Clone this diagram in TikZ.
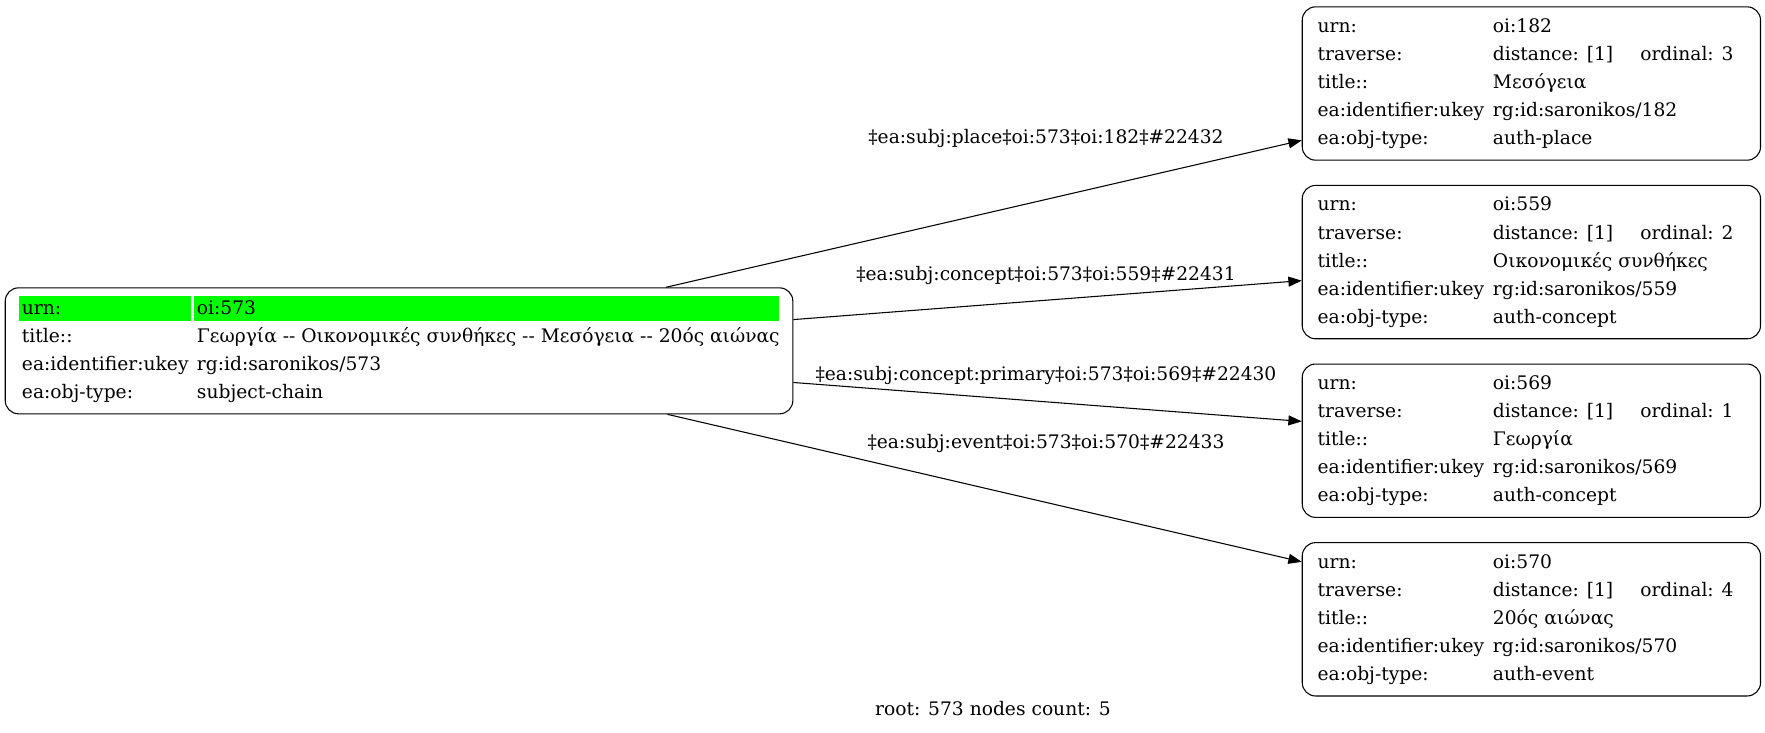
\documentclass[tikz,border=0pt]{standalone}
\usepackage{fontspec}
\setmainfont{DejaVu Serif}
\usetikzlibrary{arrows.meta,calc}
\definecolor{cellgreen}{RGB}{0,255,0}
\newcommand\rightrec[8]{%
  \node[rbox] (#1) at (1301.7,#2) {};
  \node[txt] (#1-k1) at (1317.3,#2+26) {urn:};
  \node[txt] (#1-v1) at (1492.7,#2+26) {#3};
  \node[txt] (#1-k2) at (1317.3,#2+54.1) {traverse:};
  \node[txt] (#1-v2) at (1492.7,#2+54.1) {distance: [1]};
  \node[txt] (#1-o2) at (1640,#2+54.1) {ordinal: #4};
  \node[txt] (#1-k3) at (1317.3,#2+82.2) {title::};
  \node[txt] (#1-v3) at (1492.7,#2+82.2) {#5};
  \node[txt] (#1-k4) at (1317.3,#2+110.3) {ea:identifier:ukey};
  \node[txt] (#1-v4) at (1492.7,#2+110.3) {#6};
  \node[txt] (#1-k5) at (1317.3,#2+138.4) {ea:obj-type:};
  \node[txt] (#1-v5) at (1492.7,#2+138.4) {#7};
}
\begin{document}
\begin{tikzpicture}[x=0.75pt,y=-0.75pt,
  every node/.style={font=\fontsize{14pt}{17pt}\selectfont},
  lbox/.style={draw, line width=0.8pt, rounded corners=10pt, anchor=north west, inner sep=0pt,
    minimum width=590.7pt, minimum height=94.5pt},
  rbox/.style={draw, line width=0.8pt, rounded corners=10pt, anchor=north west, inner sep=0pt,
    minimum width=343.7pt, minimum height=115pt},
  cell/.style={fill=cellgreen, anchor=north west, inner sep=0pt, minimum height=18.75pt},
  txt/.style={anchor=base west, inner sep=0pt},
  elabel/.style={anchor=base, inner sep=0pt},
  edge/.style={line width=0.8pt, -{Triangle[length=10pt,width=7.5pt]}}]
\useasboundingbox (0,0) rectangle (1765,732);

% root node
\node[lbox] (L) at (4.7,287.3) {};
\node[cell, minimum width=129pt] (Lc1) at (18.7,296) {};
\node[cell, minimum width=438.75pt] (Lc2) at (193.3,296) {};
\node[txt] (Lk1) at (21.7,314.3) {urn:};
\node[txt] (Lv1) at (196.7,314.3) {oi:573};
\node[txt] (Lk2) at (21.7,342.3) {title::};
\node[txt] (Lv2) at (196.7,342.3) {Γεωργία -{}- Οικονομικές συνθήκες -{}- Μεσόγεια -{}- 20ός αιώνας};
\node[txt] (Lk3) at (21.7,370.3) {ea:identifier:ukey};
\node[txt] (Lv3) at (196.7,370.3) {rg:id:saronikos/573};
\node[txt] (Lk4) at (21.7,398.3) {ea:obj-type:};
\node[txt] (Lv4) at (196.7,398.3) {subject-chain};

% target nodes
\rightrec{R1}{6.3}{oi:182}{3}{Μεσόγεια}{rg:id:saronikos/182}{auth-place}{}
\rightrec{R2}{184.9}{oi:559}{2}{Οικονομικές συνθήκες}{rg:id:saronikos/559}{auth-concept}{}
\rightrec{R3}{363.5}{oi:569}{1}{Γεωργία}{rg:id:saronikos/569}{auth-concept}{}
\rightrec{R4}{542.1}{oi:570}{4}{20ός αιώνας}{rg:id:saronikos/570}{auth-event}{}

% edges
\draw[edge] ($(L.north west)!0.8384!(L.north east)$) -- ($(R1.north west)!0.868!(R1.south west)$);
\draw[edge] ($(L.north east)!0.254!(L.south east)$) -- ($(R2.north west)!0.620!(R2.south west)$);
\draw[edge] ($(L.north east)!0.749!(L.south east)$) -- ($(R3.north west)!0.375!(R3.south west)$);
\draw[edge] ($(L.south west)!0.8405!(L.south east)$) -- ($(R4.north west)!0.128!(R4.south west)$);

% edge labels
\node[elabel] (e1) at (1046,143.3) {‡ea:subj:place‡oi:573‡oi:182‡\#22432};
\node[elabel] (e2) at (1046,280) {‡ea:subj:concept‡oi:573‡oi:559‡\#22431};
\node[elabel] (e3) at (1046,380) {‡ea:subj:concept:primary‡oi:573‡oi:569‡\#22430};
\node[elabel] (e4) at (1046,448.3) {‡ea:subj:event‡oi:573‡oi:570‡\#22433};

% caption
\node[elabel] (cap) at (993,715) {root: 573 nodes count: 5};
\end{tikzpicture}
\end{document}
